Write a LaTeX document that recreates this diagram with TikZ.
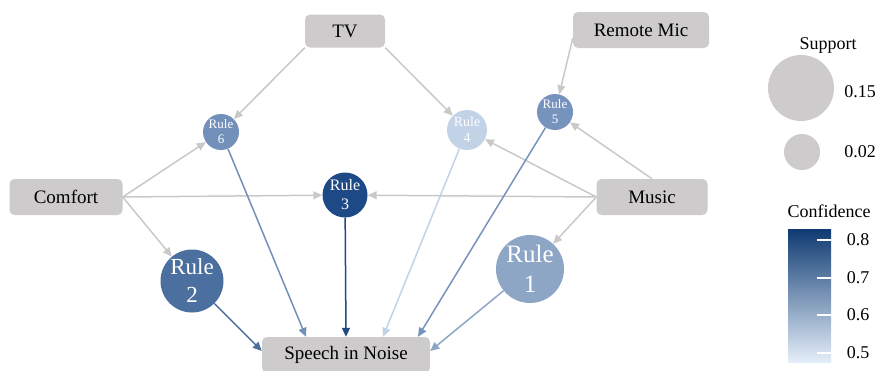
\documentclass[tikz,border=0pt]{standalone}
\usepackage{fontspec}
\setmainfont{Liberation Serif}
\usepackage{tikz}
\usetikzlibrary{arrows.meta}

\definecolor{boxgray}{HTML}{CDCBCB}
\definecolor{edgegray}{HTML}{C9C9C9}
\definecolor{confA}{HTML}{1D4A86}
\definecolor{confB}{HTML}{4B6F9F}
\definecolor{confC}{HTML}{7290BA}
\definecolor{confD}{HTML}{7693BD}
\definecolor{confE}{HTML}{8EA6C6}
\definecolor{confF}{HTML}{C2D2E7}
\definecolor{barTop}{HTML}{0E3A72}
\definecolor{barBot}{HTML}{E4EEF9}

\begin{document}
\begin{tikzpicture}[x=1pt, y=-1pt,
        box/.style={fill=boxgray, rounded corners=5pt, inner sep=0pt, font=\fontsize{19}{22}\selectfont},
        rule/.style={circle, fill=#1, text=white, inner sep=0pt, align=center},
        ante/.style={edgegray, line width=1.5pt, -{Triangle[length=9pt,width=8pt]}},
        cons/.style={#1, line width=1.5pt, -{Triangle[length=9pt,width=8pt]}}]
        \useasboundingbox (0,0) rectangle (877,370);
        \clip (0,0) rectangle (877,370);

        % items
        \node[box, minimum width=80pt, minimum height=33pt] (tv) at (345, 31) {TV};
        \node[box, minimum width=136pt, minimum height=36pt] (mic) at (641, 30) {Remote Mic};
        \node[box, minimum width=113pt, minimum height=36pt] (comfort) at (66, 197) {Comfort};
        \node[box, minimum width=111pt, minimum height=36pt] (music) at (652, 197) {Music};
        \node[box, minimum width=168pt, minimum height=36pt] (sin) at (346, 355) {Speech in Noise};

        % rules
        \node[rule=confC, minimum size=36pt, font=\fontsize{13}{15}\selectfont] (r6) at (221, 132) {Rule\\6};
        \node[rule=confF, minimum size=40pt, font=\fontsize{14}{16}\selectfont] (r4) at (467, 130) {Rule\\4};
        \node[rule=confD, minimum size=36pt, font=\fontsize{13}{15}\selectfont] (r5) at (555, 112) {Rule\\5};
        \node[rule=confA, minimum size=45pt, font=\fontsize{16}{19}\selectfont] (r3) at (345, 195) {Rule\\3};
        \node[rule=confB, minimum size=63pt, font=\fontsize{23}{28}\selectfont] (r2) at (192, 281) {Rule\\2};
        \node[rule=confE, minimum size=68pt, font=\fontsize{25}{30}\selectfont] (r1) at (530, 269) {Rule\\1};

        % lhs -> rule
        \draw[ante] (tv.south west) -- (r6);
        \draw[ante] (tv.south east) -- (r4);
        \draw[ante] ([yshift=-8pt]mic.west) -- (r5);
        \draw[ante] (comfort.east) -- (r6);
        \draw[ante] (comfort.east) -- (r3);
        \draw[ante] (comfort.east) -- (r2);
        \draw[ante] (music.west) -- (r4);
        \draw[ante] (music.north) -- (r5);
        \draw[ante] (music.west) -- (r3);
        \draw[ante] (music.west) -- (r1);

        % rule -> rhs
        \draw[cons=confB] (r2) -- ([yshift=4pt]sin.west);
        \draw[cons=confC] (r6) -- ([xshift=-40pt]sin.north);
        \draw[cons=confA] (r3) -- (sin.north);
        \draw[cons=confF] (r4) -- ([xshift=37pt]sin.north);
        \draw[cons=confD] (r5) -- ([xshift=72pt]sin.north);
        \draw[cons=confE] (r1) -- ([yshift=4pt]sin.east);

        % legend
        \node[font=\fontsize{18}{20}\selectfont] (suptitle) at (828, 45) {Support};
        \fill[boxgray] (801, 88) circle (33);
        \fill[boxgray] (802, 152) circle (18);
        \node[font=\fontsize{18}{20}\selectfont] (sup1) at (860, 92) {0.15};
        \node[font=\fontsize{18}{20}\selectfont] (sup2) at (860, 152) {0.02};

        \node[font=\fontsize{18}{20}\selectfont] (conftitle) at (829, 211) {Confidence};
        \shade[top color=barTop, bottom color=barBot] (788, 229) rectangle (831, 362);
        \foreach \y/\v in {240/0.8, 278/0.7, 315/0.6, 353/0.5} {
            \draw[white, line width=1.2pt] (817, \y) -- (831, \y);
            \node[font=\fontsize{18}{20}\selectfont] at (858, \y) {\v};
        }
    \end{tikzpicture}
\end{document}
